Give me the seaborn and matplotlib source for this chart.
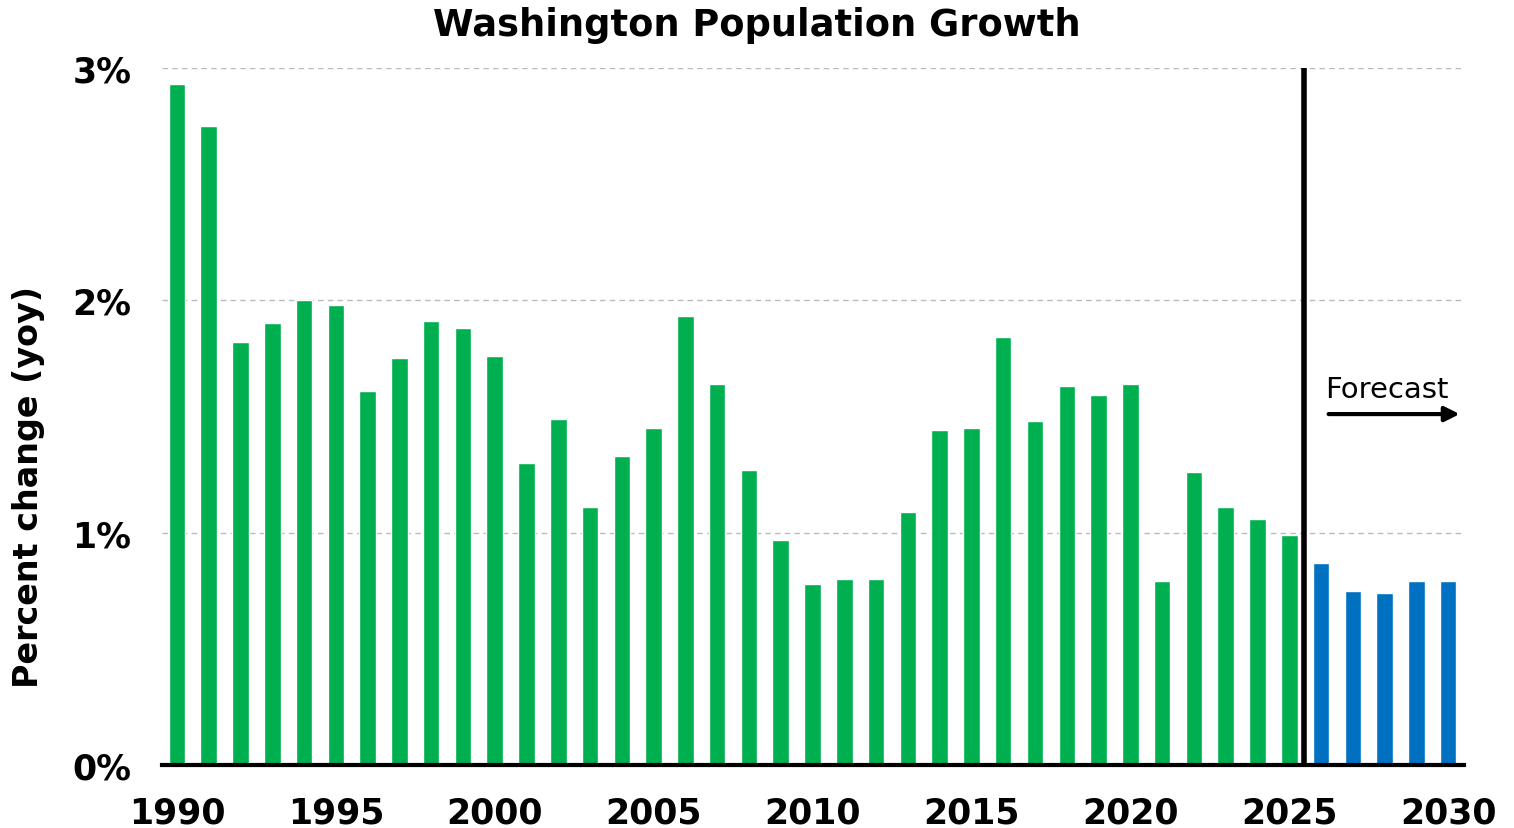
import pandas as pd
import seaborn as sns
import matplotlib.pyplot as plt

sns.set_style("white")
plt.rcParams['font.family'] = ['DejaVu Sans']
plt.rcParams['text.color'] = 'black'
plt.rcParams['xtick.color'] = 'black'
plt.rcParams['ytick.color'] = 'black'
plt.rcParams['axes.labelcolor'] = 'black'

# annual population growth, percent (yoy)
years = list(range(1990, 2031))
growth = [2.93, 2.75, 1.82, 1.90, 2.00, 1.98, 1.61, 1.75, 1.91, 1.88,
          1.76, 1.30, 1.49, 1.11, 1.33, 1.45, 1.93, 1.64, 1.27, 0.97,
          0.78, 0.80, 0.80, 1.09, 1.44, 1.45, 1.84, 1.48, 1.63, 1.59,
          1.64, 0.79, 1.26, 1.11, 1.06, 0.99, 0.87, 0.75, 0.74, 0.79,
          0.79]
kind = ["Actual" if y <= 2025 else "Forecast" for y in years]
xticks = [1990, 1995, 2000, 2005, 2010, 2015, 2020, 2025, 2030]
yticks = [0, 1, 2, 3]

df = pd.DataFrame({"year": years, "growth": growth, "kind": kind})

fig = plt.figure(figsize=(15.14, 8.29), dpi=100)
ax = fig.add_axes([0.107, 0.076, 0.860, 0.841])

sns.barplot(data=df, x="year", y="growth", hue="kind", native_scale=True,
            palette={"Actual": "#00B050", "Forecast": "#0070C0"},
            saturation=1, width=0.52, dodge=False, legend=False, ax=ax)

ax.set_xlim(1989.53, 2030.5)
ax.set_ylim(0, 3)
ax.set_xticks(xticks)
ax.set_xticklabels([str(t) for t in xticks], fontsize=25, fontweight="bold")
ax.set_yticks(yticks)
ax.set_yticklabels([f"{t}%" for t in yticks], fontsize=25, fontweight="bold")
ax.tick_params(axis="x", length=0, pad=22)
ax.tick_params(axis="y", length=0, pad=22)

for y in yticks[1:]:
    ax.axhline(y, color="#BBBBBB", linestyle=(0, (4, 3)), linewidth=1, zorder=0)

for s in ["top", "right", "left"]:
    ax.spines[s].set_visible(False)
ax.spines["bottom"].set_linewidth(3)
ax.spines["bottom"].set_color("black")

# forecast divider
ax.axvline(2025.45, color="black", linewidth=4, zorder=5)
ax.text(2028.08, 1.62, "Forecast", fontsize=21, ha="center", va="center")
ax.annotate("", xy=(2030.45, 1.51), xytext=(2026.15, 1.51),
            arrowprops=dict(arrowstyle="-|>", color="black", lw=3,
                            mutation_scale=22))

ax.set_xlabel("")
ax.set_ylabel("Percent change (yoy)", fontsize=24, fontweight="bold")
ax.yaxis.set_label_coords(-0.090, 0.40)
fig.suptitle("Washington Population Growth", fontsize=26.5, fontweight="bold",
             x=0.5, y=0.992)

fig.savefig("out.png", dpi=100)
